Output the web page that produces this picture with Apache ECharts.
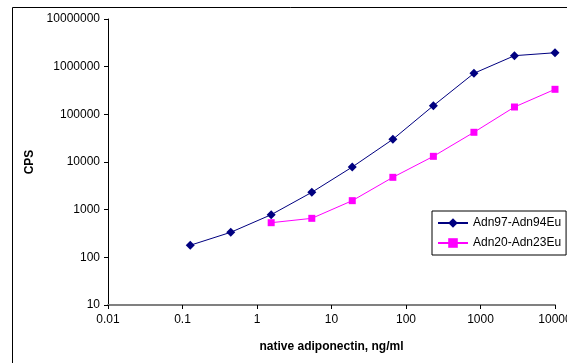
<!DOCTYPE html>
<html>
<head>
<meta charset="utf-8">
<script src="https://cdn.jsdelivr.net/npm/echarts@6/dist/echarts.min.js"></script>
<style>
html,body{margin:0;padding:0;background:#fff;}
#c{width:567px;height:363px;}
</style>
</head>
<body>
<div id="c"></div>
<script>
var seriesNames = ['Adn97-Adn94Eu', 'Adn20-Adn23Eu'];
var xBlue = [0.127, 0.444, 1.55, 5.44, 19.0, 66.6, 233, 816, 2857, 10000];
var yBlue = [179, 335, 784, 2312, 7850, 29900, 151700, 725000, 1700000, 1960000];
var xMag = [1.55, 5.44, 19.0, 66.6, 233, 816, 2857, 10000];
var yMag = [533, 658, 1545, 4770, 13150, 42000, 142500, 335000];
var xTitle = 'native adiponectin, ng/ml';
var yTitle = 'CPS';

function pairs(xs, ys){ return xs.map(function(x,i){ return [x, ys[i]]; }); }
function fmt(v){ return String(Number(v.toPrecision(6))); }

var FONT = '"Liberation Sans", Arial, sans-serif';
var chart = echarts.init(document.getElementById('c'), null, {renderer:'canvas'});
chart.setOption({
  animation: false,
  backgroundColor: '#fff',
  textStyle: {fontFamily: FONT},
  grid: {left: 108, right: 12, top: 19, bottom: 58, containLabel: false, outerBoundsMode: 'none'},
  graphic: [{
    type: 'rect', silent: true, z: -1,
    shape: {x: 12.5, y: 7.5, width: 700, height: 500},
    style: {fill: 'none', stroke: '#000', lineWidth: 1}
  }],
  legend: {
    orient: 'vertical', left: 432, top: 211,
    width: 120,
    borderColor: '#000', borderWidth: 1,
    padding: [6, 5, 6, 5],
    itemGap: 8, itemWidth: 30, itemHeight: 12,
    textStyle: {fontSize: 12, color: '#000', fontFamily: FONT},
    data: seriesNames
  },
  xAxis: {
    type: 'log', logBase: 10, min: 0.01, max: 10000, splitNumber: 6,
    name: xTitle, nameLocation: 'middle', nameGap: 36,
    nameTextStyle: {fontSize: 12, fontWeight: 'bold', color: '#000', fontFamily: FONT},
    axisLine: {show: true, onZero: false, lineStyle: {color: '#808080', width: 2}},
    axisTick: {show: true, inside: false, length: 4, lineStyle: {color: '#000', width: 1}},
    axisLabel: {fontSize: 12, color: '#000', margin: 9, formatter: fmt, fontFamily: FONT},
    splitLine: {show: false},
    minorTick: {show: false}
  },
  yAxis: {
    type: 'log', logBase: 10, min: 10, max: 10000000, splitNumber: 6,
    name: yTitle, nameLocation: 'middle', nameGap: 64, nameRotate: 90,
    nameTextStyle: {fontSize: 12, fontWeight: 'bold', color: '#000', fontFamily: FONT},
    axisLine: {show: true, onZero: false, lineStyle: {color: '#000', width: 1}},
    axisTick: {show: true, inside: false, length: 4, lineStyle: {color: '#000', width: 1}},
    axisLabel: {fontSize: 12, color: '#000', margin: 8, formatter: fmt, fontFamily: FONT},
    splitLine: {show: false}
  },
  series: [{
    name: seriesNames[0], type: 'line', data: pairs(xBlue, yBlue),
    symbol: 'diamond', symbolSize: 9, showAllSymbol: true,
    itemStyle: {color: '#000080'},
    lineStyle: {color: '#000080', width: 1}
  }, {
    name: seriesNames[1], type: 'line', data: pairs(xMag, yMag),
    symbol: 'rect', symbolSize: 7, showAllSymbol: true,
    itemStyle: {color: '#FF00FF'},
    lineStyle: {color: '#FF00FF', width: 1}
  }]
});
</script>
</body>
</html>
